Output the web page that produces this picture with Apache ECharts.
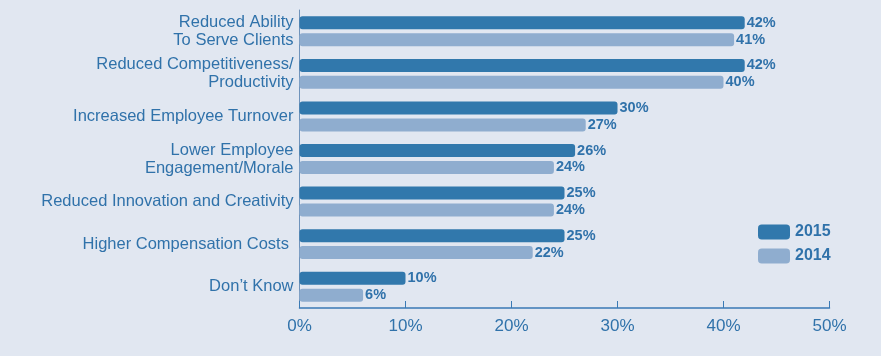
<!DOCTYPE html>
<html><head><meta charset="utf-8">
<script src="https://cdn.jsdelivr.net/npm/echarts@6/dist/echarts.min.js"></script>
<style>html,body{margin:0;padding:0;background:#e1e7f1}#c{width:881px;height:356px}</style>
</head><body><div id="c"></div>
<script>
const categories = ["Reduced Ability\nTo Serve Clients","Reduced Competitiveness/\nProductivity","Increased Employee Turnover","Lower Employee\nEngagement/Morale","Reduced Innovation and Creativity","Higher Compensation Costs ","Don\u2019t Know"];
const values2015 = [42,42,30,26,25,25,10];
const values2014 = [41,40,27,24,24,22,6];
const xTicks = [0,10,20,30,40,50];
const textColor = '#3072aa';
const font = '"Liberation Sans", Arial, sans-serif';
const chart = echarts.init(document.getElementById('c'));
const lbl = {show:true, position:'right', distance:2, color:textColor, fontSize:14.5, fontWeight:'bold', fontFamily:font, formatter:p=>p.value+'%'};
chart.setOption({
  backgroundColor:'#e1e7f1',
  animation:false,
  grid:{left:299.5, right:51.5, top:10, bottom:48},
  legend:{orient:'vertical', left:753, top:219, itemWidth:32, itemHeight:15, itemGap:8, icon:'roundRect',
    textStyle:{color:textColor, fontSize:16, fontWeight:'bold', fontFamily:font},
    data:['2015','2014']},
  xAxis:{type:'value', min:xTicks[0], max:xTicks[xTicks.length-1], interval:10,
    axisLine:{show:true, lineStyle:{color:'#3a7ab5', width:1.5}},
    axisTick:{show:true, inside:true, length:7, lineStyle:{color:'#3a7ab5'}},
    splitLine:{show:false},
    axisLabel:{color:textColor, fontSize:17, fontFamily:font, margin:10, formatter:v=>v+'%'}},
  yAxis:{type:'category', data:categories, inverse:true,
    axisLine:{show:true, lineStyle:{color:'#6f93bb', width:1}},
    axisTick:{show:false},
    axisLabel:{color:textColor, fontSize:16.5, fontFamily:font, margin:6, lineHeight:18, align:'right'}},
  series:[
    {name:'2015', type:'bar', data:values2015, barWidth:13, barGap:'30%', itemStyle:{color:'#3178ac', borderRadius:3}, label:lbl},
    {name:'2014', type:'bar', data:values2014, barWidth:13, itemStyle:{color:'#8fadcf', borderRadius:3}, label:lbl}
  ]
});
</script></body></html>
